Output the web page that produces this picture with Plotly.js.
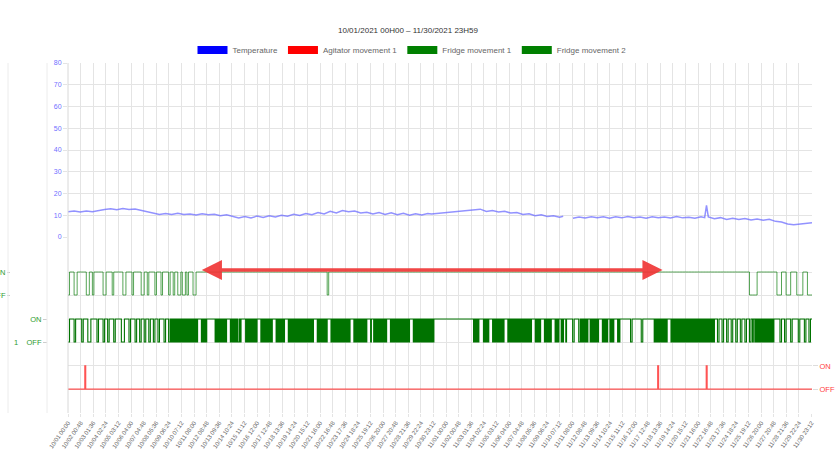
<!DOCTYPE html>
<html><head><meta charset="utf-8">
<script src="https://cdn.plot.ly/plotly-3.0.1.min.js"></script>
<style>html,body{margin:0;padding:0;background:#fff;}#chart{width:838px;height:457px;}</style>
</head><body><div id="chart"></div>
<script>
// ---- data (time in days since 10/01/2021 00:00) ----
const tickLabels = ["10/01 00:00","10/02 00:48","10/03 01:36","10/04 02:24","10/05 03:12","10/06 04:00","10/07 04:48","10/08 05:36","10/09 06:24","10/10 07:12",
"10/11 08:00","10/12 08:48","10/13 09:36","10/14 10:24","10/15 11:12","10/16 12:00","10/17 12:48","10/18 13:36","10/19 14:24","10/20 15:12",
"10/21 16:00","10/22 16:48","10/23 17:36","10/24 18:24","10/25 19:12","10/26 20:00","10/27 20:48","10/28 21:36","10/29 22:24","10/30 23:12",
"11/01 00:00","11/02 00:48","11/03 01:36","11/04 02:24","11/05 03:12","11/06 04:00","11/07 04:48","11/08 05:36","11/09 06:24","11/10 07:12",
"11/11 08:00","11/12 08:48","11/13 09:36","11/14 10:24","11/15 11:12","11/16 12:00","11/17 12:48","11/18 13:36","11/19 14:24","11/20 15:12",
"11/21 16:00","11/22 16:48","11/23 17:36","11/24 18:24","11/25 19:12","11/26 20:00","11/27 20:48","11/28 21:36","11/29 22:24","11/30 23:12"];

const tempDays = [0,0.5,1,1.5,2,2.5,3,3.5,4,4.5,5,5.5,6,6.5,7,7.5,8,8.5,9,9.5,10,10.5,11,11.5,12,12.5,13,13.5,14,14.5,
15,15.5,16,16.5,17,17.5,18,18.5,19,19.5,20,20.5,21,21.5,22,22.5,23,23.5,24,24.5,25,25.5,26,26.5,27,27.5,28,28.5,29,29.5,29.8,
33.8,34.3,34.8,35.3,35.8,36.3,36.8,37.3,37.8,38.3,38.8,39.3,39.8,40.3,40.6,41.0,
41.4,41.9,42.4,42.9,43.4,43.9,44.4,44.9,45.4,45.9,46.4,46.9,47.4,47.9,48.4,48.9,49.4,49.9,50.4,50.9,51.4,51.9,52.2,52.35,52.5,
53,53.5,54,54.5,55,55.5,56,56.5,57,57.5,58,58.5,59,59.5,60,60.5,61];
const tempValues = [11.6,12.0,11.5,11.9,11.6,12.2,12.6,13.0,12.5,13.1,12.7,12.9,12.2,11.7,11.0,10.4,10.8,10.3,10.9,10.4,10.6,10.1,10.7,10.2,10.5,9.8,10.2,9.5,8.7,9.4,
8.8,9.6,9.0,9.8,9.2,10.0,9.6,10.4,9.9,10.8,10.2,11.2,10.6,11.8,11.1,12.2,11.6,11.9,11.0,11.4,10.6,11.2,10.4,11.1,10.2,10.9,10.0,10.7,10.1,10.8,10.6,
12.8,11.7,12.2,11.5,11.8,11.0,11.3,10.4,10.7,9.8,10.2,9.4,9.8,9.1,9.5,null,
8.6,9.2,8.7,9.3,8.8,9.3,8.6,9.3,8.8,9.4,8.9,9.2,8.6,9.3,8.8,9.2,8.7,9.4,8.8,9.1,8.6,9.3,8.9,14.6,9.2,
8.4,8.9,8.1,8.6,8.0,8.5,7.8,8.3,7.7,8.1,7.2,6.9,6.0,5.6,5.9,6.4,6.6];

// ON(1)/OFF(0) state per time slot, one string per day (slots spread evenly over the day)
const fridge1Days = ["01110011","11110011","01111110","01111011","11110011","11011111","00110111","10111011","11011011","00100101",
"11001111","11111111","11111111","11111111","11111111","11111111","11111111","11111111","11111111","11111111",
"11111111","11011111","11111111","11111111","11111111","11111111","11111111","11111111","11111111","11111111",
"11111111","11111111","11111111","11111111","11111111","11111111","11111111","11111111","11111111","11111111",
"11111111","11111111","11111111","11111111","11111111","11111111","11111111","11111111","11111111","11111111",
"11111111","11111111","11111111","11111111","11111111","11111110","00001111","11111111","10001110","00111100",
"00111000"];
const fridge2Days = ["01110111","10111001","11101110","11011101","11100111","01110110","11011011","01101110",
"1111001010101010","1010101010101010",
"1010101010111110","1010101111111111","1010101010101010","1111101010101010","0101111110101010","1010101011111010",
"1010101010101111","1010101010101111","1010101010101010","1010101010101010",
"1011111010101010","1010111110101010","1010101010101010","1011111010101010","1010101011111011","1010101010101010",
"1011111010101010","1010101010101010","1111101010101010","1010101010101010",
"11111111","11111111","11111111","1111010101011111","1010101011111010","1010101010101111","1010101010101010",
"1010101010101010","1111101010101111","1010101010111110",
"1010111010111011","11101110","1010101010111010","1010101011111010","1010111010101111","1010111111111111",
"10111111","01111111","1010101010101010","1011111010101010",
"1010101010101010","1010101010101010","1010101010101010","11011011","01101101","10110110",
"1101101010101010","1010101010101011","11101101","11011110",
"11101101"];
const agitatorOn = [[1.38,1.45],[48.35,48.42],[52.33,52.40]];

const seriesNames = ["Temperature","Agitator movement 1","Fridge movement 1","Fridge movement 2"];
const seriesColors = ["#0000ff","#ff0000","#008000","#008000"];
const titleText = "10/01/2021 00H00 \u2013 11/30/2021 23H59";
const totalDays = 61;

// ---- helpers ----
function labelToDay(s){
  const [md, hm] = s.split(" ");
  const [m, d] = md.split("/").map(Number);
  const [h, mi] = hm.split(":").map(Number);
  return (m === 10 ? 0 : 31) + (d - 1) + (h + mi / 60) / 24;
}
function stepsFromDays(days){
  const x = [], y = [];
  days.forEach((s, i) => { for (let k = 0; k < s.length; k++){ x.push(i + k / s.length); y.push(+s[k]); } });
  x.push(days.length); y.push(+days[days.length - 1].slice(-1));
  return {x, y};
}
function stepsFromIntervals(iv, end){
  const x = [0], y = [0];
  iv.forEach(([a, b]) => { x.push(a, b); y.push(1, 0); });
  x.push(end); y.push(0);
  return {x, y};
}

const tickVals = tickLabels.map(labelToDay);
const f1 = stepsFromDays(fridge1Days);
const f2 = stepsFromDays(fridge2Days);
const ag = stepsFromIntervals(agitatorOn, totalDays);

const traces = [];
seriesNames.forEach((n, i) => traces.push({x:[null], y:[null], type:'scatter', mode:'lines', name:n,
  line:{color:seriesColors[i], width:8}, xaxis:'x', yaxis:'y', hoverinfo:'skip'}));
traces.push({x:tempDays, y:tempValues, type:'scatter', mode:'lines', showlegend:false,
  line:{color:'rgba(100,100,255,0.7)', width:1.5}, xaxis:'x', yaxis:'y'});
traces.push({x:f1.x, y:f1.y, type:'scatter', mode:'lines', showlegend:false,
  line:{color:'rgba(20,130,20,0.8)', width:0.9, shape:'hv'}, xaxis:'x', yaxis:'y2'});
traces.push({x:f2.x, y:f2.y, type:'scatter', mode:'lines', showlegend:false,
  line:{color:'rgb(0,115,0)', width:1.1, shape:'hv'}, xaxis:'x', yaxis:'y3'});
traces.push({x:ag.x, y:ag.y, type:'scatter', mode:'lines', showlegend:false,
  line:{color:'rgba(255,40,40,0.8)', width:1.2, shape:'hv'}, xaxis:'x', yaxis:'y4'});

const W = 812; // paper width (l=0)
const grid = '#e4e4e4';
const layout = {
  width:838, height:457,
  margin:{l:0, r:26, t:63, b:44},
  paper_bgcolor:'#fff', plot_bgcolor:'#fff',
  font:{family:'"Liberation Sans", Arial, sans-serif', size:8, color:'#666'},
  title:{text:titleText, x:408/838, xref:'container', xanchor:'center', y:1-30/457, yref:'container', yanchor:'middle',
         font:{size:8, color:'#333'}},
  showlegend:true,
  legend:{orientation:'h', x:412/W, xanchor:'center', y:1+13/350, yanchor:'middle',
          font:{size:8, color:'#666'}, bgcolor:'rgba(0,0,0,0)', traceorder:'normal'},
  xaxis:{domain:[68/W, 1], range:[0, totalDays], tickvals:tickVals, ticktext:tickLabels, tickangle:-55,
         tickfont:{size:6, color:'#666'}, showgrid:true, gridcolor:grid, zeroline:false, showline:false,
         ticks:'outside', ticklen:3, tickcolor:grid, anchor:'y4', automargin:false},
  yaxis:{domain:[176/350, 1], range:[0, 80], dtick:10, tickfont:{size:7, color:'#7070ff'},
         gridcolor:grid, zeroline:false, ticks:'outside', ticklen:4, tickcolor:grid, anchor:'x', automargin:false},
  yaxis2:{domain:[106/350, 176/350], range:[-0.522, 2.522], tickvals:[0,1], ticktext:['OFF','ON'],
          tickfont:{size:7.5, color:'#2e9a2e'}, anchor:'free', position:10/W, showgrid:true, gridcolor:grid,
          zeroline:false, ticks:'outside', ticklen:3, tickcolor:'#ccc', automargin:false},
  yaxis3:{domain:[59/350, 106/350], range:[-0.522, 1.522], tickvals:[0,1], ticktext:['1\u00a0\u00a0\u00a0\u00a0OFF','ON'],
          tickfont:{size:7.5, color:'#2e9a2e'}, anchor:'free', position:47/W, showgrid:true, gridcolor:grid,
          zeroline:false, ticks:'outside', ticklen:4, tickcolor:'#ccc', automargin:false},
  yaxis4:{domain:[0, 59/350], range:[-1.03, 1.515], tickvals:[0,1], ticktext:['OFF','ON'], side:'right',
          tickfont:{size:7.5, color:'#ff4040'}, anchor:'x', showgrid:true, gridcolor:grid,
          zeroline:false, ticks:'outside', ticklen:5, tickcolor:'#ddd', automargin:false},
  shapes:[
    {type:'line', xref:'paper', yref:'paper', x0:8/W, x1:8/W, y0:0, y1:1, line:{color:'#ececec', width:1}},
    {type:'line', xref:'paper', yref:'paper', x0:47/W, x1:47/W, y0:0, y1:1, line:{color:'#ececec', width:1}},
    {type:'line', xref:'paper', yref:'paper', x0:68/W, x1:68/W, y0:0, y1:1, line:{color:'#d8d8d8', width:1}}
  ],
  annotations:[{x:48.75, y:1.087, xref:'x', yref:'y2', ax:10.85, ay:1.087, axref:'x', ayref:'y2',
    text:'', showarrow:true, arrowside:'end+start', arrowhead:2, startarrowhead:2,
    arrowsize:1.15, startarrowsize:1.15, arrowwidth:3.5, arrowcolor:'rgba(240,55,55,0.92)', standoff:0, startstandoff:0}]
};

Plotly.newPlot('chart', traces, layout, {displayModeBar:false, responsive:false});
</script>
</body></html>
